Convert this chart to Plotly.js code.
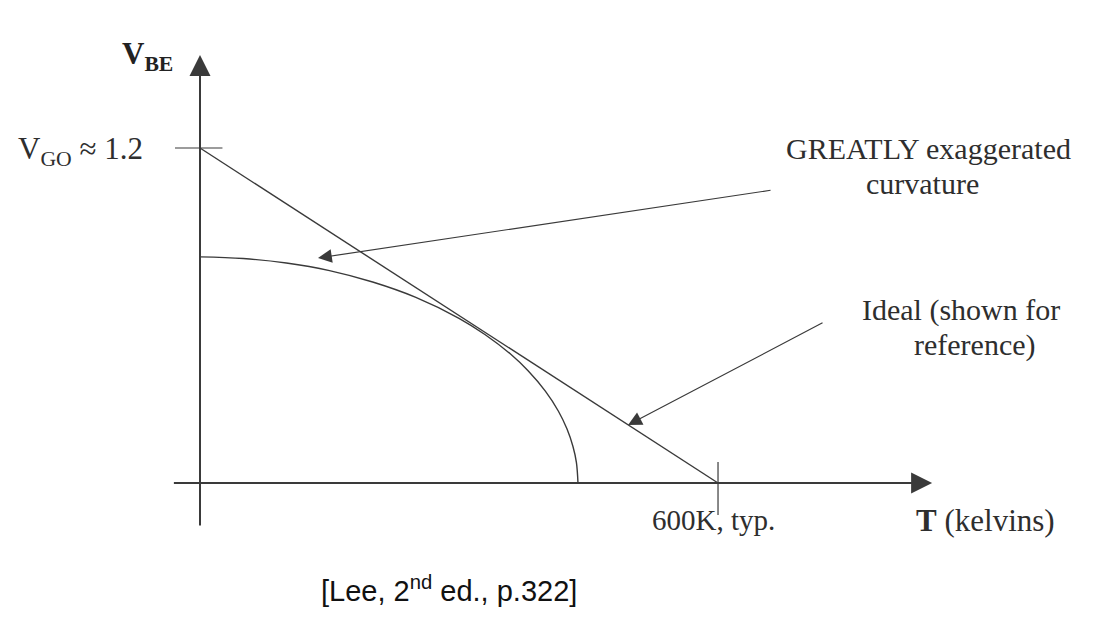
<!DOCTYPE html>
<html>
<head>
<meta charset="utf-8">
<script src="https://cdn.plot.ly/plotly-3.0.1.min.js"></script>
<style>html,body{margin:0;padding:0;background:#fff;}#chart{width:1113px;height:622px;}</style>
</head>
<body>
<div id="chart"></div>
<script>
// Ideal V_BE line (kelvins, volts)
var idealT = [0, 600];
var idealV = [1.2, 0];
// Curved (greatly exaggerated) V_BE
var curveT = [0, 50, 100, 150, 200, 250, 300, 330, 360, 380, 400, 415, 425, 432, 436, 437.8];
var curveV = [0.810, 0.804, 0.788, 0.761, 0.720, 0.665, 0.590, 0.532, 0.461, 0.402, 0.329, 0.258, 0.194, 0.131, 0.073, 0];
// Marked values
var vgo = 1.2;
var tTyp = 600;

var serif = 'Liberation Serif, Times New Roman, serif';
var ink = '#3a3a3a';
var txt = '#2e2e2e';

var traces = [
  {x: idealT, y: idealV, mode: 'lines', line: {color: ink, width: 1.4}, hoverinfo: 'skip', showlegend: false},
  {x: curveT, y: curveV, mode: 'lines', line: {color: ink, width: 1.4, shape: 'spline', smoothing: 1.0}, hoverinfo: 'skip', showlegend: false},
  // tick at V_GO
  {x: [-29, 26], y: [vgo, vgo], mode: 'lines', line: {color: ink, width: 1.2}, hoverinfo: 'skip', showlegend: false},
  // tick at 600 K
  {x: [tTyp, tTyp], y: [0.075, -0.115], mode: 'lines', line: {color: ink, width: 1.2}, hoverinfo: 'skip', showlegend: false}
];

var annotations = [
  // y axis with arrow
  {x: 0, y: 1.533, ax: 0, ay: -0.158, axref: 'x', ayref: 'y', xref: 'x', yref: 'y', text: '', showarrow: true,
   arrowhead: 2, arrowsize: 2.1, arrowwidth: 2, arrowcolor: ink},
  // x axis with arrow
  {x: 848, y: 0, ax: -32, ay: 0, axref: 'x', ayref: 'y', xref: 'x', yref: 'y', text: '', showarrow: true,
   arrowhead: 2, arrowsize: 2.1, arrowwidth: 2, arrowcolor: ink},
  // pointer arrows
  {x: 136.7, y: 0.806, ax: 662.6, ay: 1.0495, axref: 'x', ayref: 'y', xref: 'x', yref: 'y', text: '', showarrow: true,
   arrowhead: 2, arrowsize: 2.3, arrowwidth: 1.2, arrowcolor: ink},
  {x: 495.8, y: 0.2078, ax: 722.8, ay: 0.5767, axref: 'x', ayref: 'y', xref: 'x', yref: 'y', text: '', showarrow: true,
   arrowhead: 2, arrowsize: 2.3, arrowwidth: 1.2, arrowcolor: ink},
  // labels
  {xref: 'paper', yref: 'paper', x: 147/1113, y: 1 - 56/622, xanchor: 'center', yanchor: 'middle', showarrow: false,
   text: '<b>V<sub>BE</sub></b>', font: {family: serif, size: 31, color: '#222'}},
  {xref: 'paper', yref: 'paper', x: 16/1113, y: 1 - 151/622, xanchor: 'left', yanchor: 'middle', showarrow: false,
   text: 'V<sub>GO</sub> ≈ 1.2', font: {family: serif, size: 31, color: txt}},
  {xref: 'paper', yref: 'paper', x: 928/1113, y: 1 - 148/622, xanchor: 'center', yanchor: 'middle', showarrow: false,
   text: 'GREATLY exaggerated', font: {family: serif, size: 30, color: txt}},
  {xref: 'paper', yref: 'paper', x: 922/1113, y: 1 - 183/622, xanchor: 'center', yanchor: 'middle', showarrow: false,
   text: 'curvature', font: {family: serif, size: 30, color: txt}},
  {xref: 'paper', yref: 'paper', x: 961/1113, y: 1 - 310/622, xanchor: 'center', yanchor: 'middle', showarrow: false,
   text: 'Ideal (shown for', font: {family: serif, size: 30, color: txt}},
  {xref: 'paper', yref: 'paper', x: 975/1113, y: 1 - 345/622, xanchor: 'center', yanchor: 'middle', showarrow: false,
   text: 'reference)', font: {family: serif, size: 30, color: txt}},
  {xref: 'paper', yref: 'paper', x: 713/1113, y: 1 - 520/622, xanchor: 'center', yanchor: 'middle', showarrow: false,
   text: '600K, typ.', font: {family: serif, size: 29, color: txt}},
  {xref: 'paper', yref: 'paper', x: 985/1113, y: 1 - 520/622, xanchor: 'center', yanchor: 'middle', showarrow: false,
   text: '<b>T</b> (kelvins)', font: {family: serif, size: 31, color: txt}},
  {xref: 'paper', yref: 'paper', x: 449/1113, y: 1 - 589/622, xanchor: 'center', yanchor: 'middle', showarrow: false,
   text: '[Lee, 2<sup>nd</sup> ed., p.322]', font: {family: 'Liberation Sans, Arial, sans-serif', size: 29, color: '#111'}}
];

var layout = {
  width: 1113, height: 622,
  margin: {l: 0, r: 0, t: 0, b: 0},
  paper_bgcolor: '#ffffff', plot_bgcolor: '#ffffff',
  xaxis: {range: [-231.66, 1057.5], visible: false, fixedrange: true},
  yaxis: {range: [-0.4979, 1.7302], visible: false, fixedrange: true},
  annotations: annotations,
  showlegend: false
};

Plotly.newPlot('chart', traces, layout, {displayModeBar: false, staticPlot: true});
</script>
</body>
</html>
